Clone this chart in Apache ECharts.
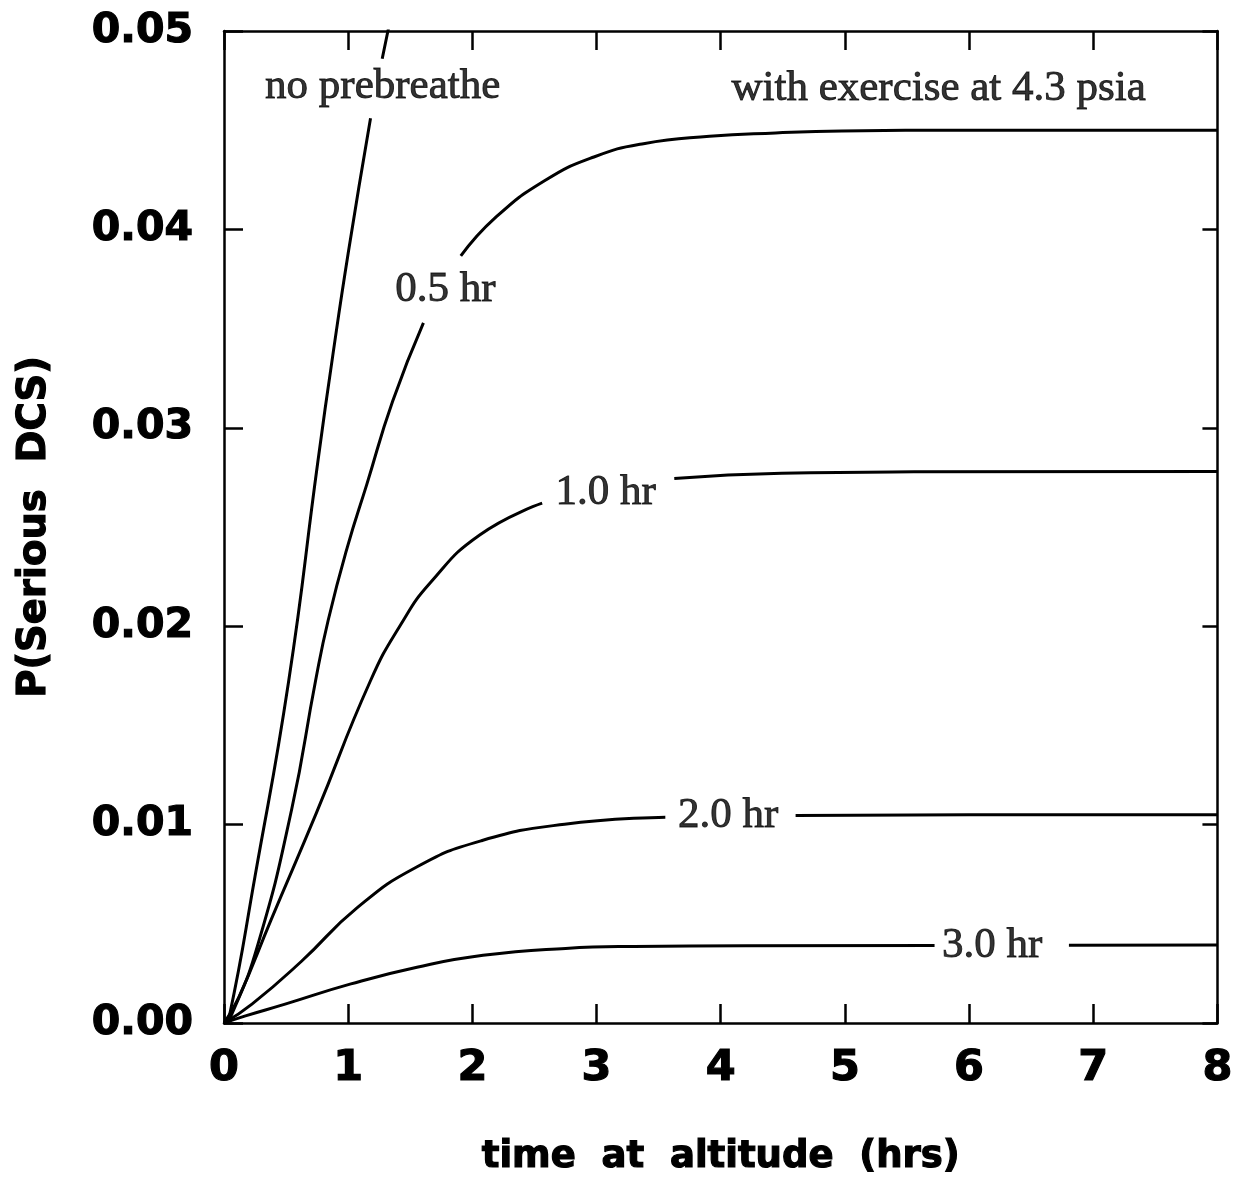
<!DOCTYPE html>
<html>
<head>
<meta charset="utf-8">
<script src="https://cdn.jsdelivr.net/npm/echarts@6/dist/echarts.min.js"></script>
<style>
  html, body { margin: 0; padding: 0; background: #fff; }
  #chart { width: 1236px; height: 1185px; }
</style>
</head>
<body>
<div id="chart"></div>
<script>
// Tick labels
const xTicks = [0, 1, 2, 3, 4, 5, 6, 7, 8];
const yTicks = [0.00, 0.01, 0.02, 0.03, 0.04, 0.05];

// Curves: [time at altitude (hrs), P(Serious DCS)]; null marks the break where a label sits
const noPrebreathe = [
  [0, 0], [0.04, 0.00025], [0.25, 0.0074], [0.52, 0.0172], [0.756, 0.0283],
  [0.875, 0.0336], [1.0, 0.0388], [1.18, 0.0456],
  [1.23, null],
  [1.274, 0.0486], [1.32, 0.0500], [1.36, 0.0512]
];
const prebreathe05 = [
  [0, 0], [0.063, 0.00045], [0.275, 0.0040], [0.546, 0.0108], [0.737, 0.01724],
  [0.839, 0.0203], [0.994, 0.0240], [1.15, 0.02715], [1.358, 0.03134], [1.606, 0.03529],
  [1.75, null],
  [1.907, 0.03866], [2.185, 0.04059], [2.581, 0.04245], [2.979, 0.04365], [3.378, 0.04432],
  [3.91, 0.04469], [4.442, 0.04486], [4.975, 0.04496], [6.0, 0.045], [8.0, 0.045]
];
const prebreathe10 = [
  [0, 0], [0.118, 0.00128], [0.379, 0.0052], [0.745, 0.0106], [1.176, 0.0172],
  [1.425, 0.0201], [1.663, 0.0222], [2.059, 0.0246], [2.562, 0.0262],
  [3.1, null],
  [3.626, 0.02745], [4.491, 0.02771], [5.556, 0.02778], [8.0, 0.0278]
];
const prebreathe20 = [
  [0, 0], [0.225, 0.00095], [0.622, 0.0031], [1.071, 0.0058], [1.548, 0.00785],
  [2.079, 0.0092], [2.743, 0.01002], [3.554, 0.01037],
  [4.1, null],
  [4.603, 0.01046], [6.0, 0.0105], [8.0, 0.0105]
];
const prebreathe30 = [
  [0, 0], [0.173, 0.00036], [0.492, 0.00095], [1.022, 0.00197], [1.554, 0.00281],
  [2.086, 0.00341], [2.751, 0.00376], [3.3, 0.00386], [4.2, 0.00389], [5.722, 0.0039],
  [6.2, null],
  [6.804, 0.00392], [8.0, 0.00393]
];

// Text annotations placed in data coordinates
const annotationText = ['no prebreathe', 'with exercise at 4.3 psia', '0.5 hr', '1.0 hr', '2.0 hr', '3.0 hr'];
const annotationX = [1.278, 5.755, 1.782, 3.073, 4.06, 6.185];
const annotationY = [0.04718, 0.0471, 0.03697, 0.02675, 0.01047, 0.00389];

const HEAVY = '"DejaVu Sans", "Liberation Sans", Arial, sans-serif';
const SERIF = '"Liberation Serif", "DejaVu Serif", "Times New Roman", serif';

const chart = echarts.init(document.getElementById('chart'), null, { renderer: 'canvas' });

function curve(name, data) {
  return {
    name: name, type: 'line', data: data,
    xAxisIndex: 0, yAxisIndex: 0,
    smooth: 0.5, connectNulls: false,
    showSymbol: false, symbol: 'none', silent: true, clip: true,
    lineStyle: { color: '#000', width: 3 },
    z: 3
  };
}

chart.setOption({
  animation: false,
  backgroundColor: '#fff',
  grid: { left: 224, right: 11, top: 31, bottom: 162, containLabel: false },
  xAxis: [
    {
      type: 'value', position: 'bottom', min: 0, max: 8, interval: 1,
      name: 'time  at  altitude  (hrs)', nameLocation: 'middle', nameGap: 116,
      nameTextStyle: { fontFamily: HEAVY, fontWeight: 'bold', fontSize: 37, color: '#000',
        textBorderColor: '#000', textBorderWidth: 1.2 },
      axisLine: { show: true, onZero: false, lineStyle: { color: '#000', width: 2.5 } },
      axisTick: { show: true, inside: true, length: 19, lineStyle: { color: '#000', width: 2.5 } },
      axisLabel: { show: true, margin: 24, fontFamily: HEAVY, fontWeight: 'bold', fontSize: 43, color: '#000',
        textBorderColor: '#000', textBorderWidth: 1.2,
        formatter: v => String(xTicks[Math.round(v)]) },
      splitLine: { show: false }
    },
    {
      type: 'value', position: 'top', min: 0, max: 8, interval: 1,
      axisLine: { show: true, onZero: false, lineStyle: { color: '#000', width: 2.5 } },
      axisTick: { show: true, inside: true, length: 19, lineStyle: { color: '#000', width: 2.5 } },
      axisLabel: { show: false }, splitLine: { show: false }
    }
  ],
  yAxis: [
    {
      type: 'value', position: 'left', min: 0, max: 0.05, interval: 0.01,
      name: 'P(Serious  DCS)', nameLocation: 'middle', nameGap: 170, nameRotate: 90,
      nameTextStyle: { fontFamily: HEAVY, fontWeight: 'bold', fontSize: 38.5, color: '#000',
        textBorderColor: '#000', textBorderWidth: 1.2 },
      axisLine: { show: true, onZero: false, lineStyle: { color: '#000', width: 2.5 } },
      axisTick: { show: true, inside: true, length: 19, lineStyle: { color: '#000', width: 2.5 } },
      axisLabel: { show: true, margin: 31, fontFamily: HEAVY, fontWeight: 'bold', fontSize: 41, color: '#000',
        textBorderColor: '#000', textBorderWidth: 1.2,
        formatter: v => yTicks[Math.round(v * 100)].toFixed(2) },
      splitLine: { show: false }
    },
    {
      type: 'value', position: 'right', min: 0, max: 0.05, interval: 0.01,
      axisLine: { show: true, onZero: false, lineStyle: { color: '#000', width: 2.5 } },
      axisTick: { show: true, inside: true, length: 15, lineStyle: { color: '#000', width: 2.5 } },
      axisLabel: { show: false }, splitLine: { show: false }
    }
  ],
  series: [
    curve('no prebreathe', noPrebreathe),
    curve('0.5 hr', prebreathe05),
    curve('1.0 hr', prebreathe10),
    curve('2.0 hr', prebreathe20),
    curve('3.0 hr', prebreathe30),
    {
      name: 'labels', type: 'scatter', xAxisIndex: 0, yAxisIndex: 0,
      symbolSize: 0, silent: true, z: 5,
      data: annotationText.map((t, i) => ({ value: [annotationX[i], annotationY[i]], name: t })),
      label: {
        show: true, position: 'inside', formatter: p => p.name,
        fontFamily: SERIF, fontSize: 43, color: '#000',
        textBorderColor: '#000', textBorderWidth: 0.9
      }
    }
  ]
});
</script>
</body>
</html>
